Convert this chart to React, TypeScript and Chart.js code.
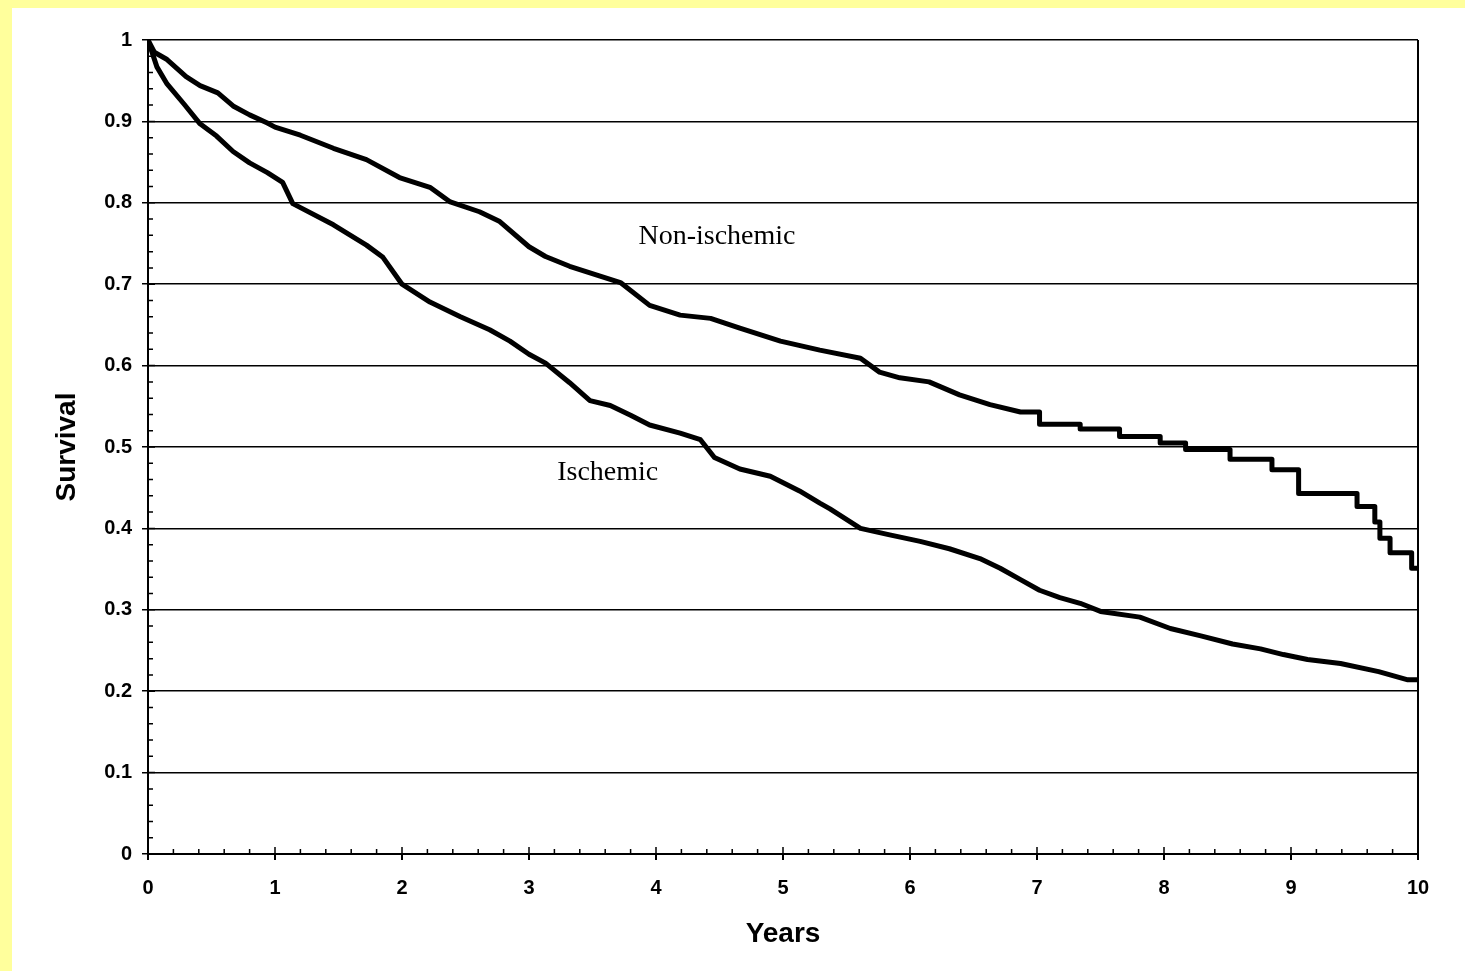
import React, { useEffect, useRef } from "react";
import { Chart, registerables } from "chart.js";

Chart.register(...registerables);

// Years since diagnosis (x) and survival proportion (y); repeated x values mark the visible drops of the curve's steps
const nonIschemicYears = [
  0, 0.05, 0.15, 0.3, 0.41, 0.55, 0.67, 0.8, 0.94, 1.0, 1.2, 1.46, 1.72, 1.98,
  2.22, 2.38, 2.61, 2.77, 3.0, 3.13, 3.32, 3.56, 3.72, 3.95, 4.19, 4.43, 4.66,
  4.98, 5.29, 5.61, 5.76, 5.92, 6.15, 6.39, 6.63, 6.87,
  7.02, 7.02, 7.34, 7.34, 7.65, 7.65, 7.97, 7.97, 8.17, 8.17, 8.52, 8.52,
  8.85, 8.85, 9.06, 9.06, 9.52, 9.52, 9.66, 9.66, 9.7, 9.7, 9.78, 9.78,
  9.95, 9.95, 10.0,
];
const nonIschemicSurvival = [
  1.0, 0.985, 0.976, 0.955, 0.944, 0.935, 0.919, 0.908, 0.898, 0.893, 0.883,
  0.867, 0.853, 0.831, 0.819, 0.801, 0.789, 0.777, 0.746, 0.734, 0.722, 0.71,
  0.702, 0.674, 0.662, 0.658, 0.646, 0.63, 0.619, 0.609, 0.592, 0.585, 0.58,
  0.564, 0.552, 0.543,
  0.543, 0.528, 0.528, 0.522, 0.522, 0.513, 0.513, 0.505, 0.505, 0.497,
  0.497, 0.485, 0.485, 0.472, 0.472, 0.443, 0.443, 0.427, 0.427, 0.408,
  0.408, 0.388, 0.388, 0.37, 0.37, 0.351, 0.351,
];

const ischemicYears = [
  0, 0.07, 0.15, 0.28, 0.41, 0.54, 0.67, 0.8, 0.94, 1.06, 1.14, 1.46, 1.72,
  1.85, 2.0, 2.22, 2.46, 2.69, 2.85, 3.0, 3.13, 3.32, 3.48, 3.64, 3.8, 3.95,
  4.19, 4.35, 4.46, 4.66, 4.9, 5.13, 5.29, 5.37, 5.61, 5.84, 6.08, 6.31, 6.55,
  6.71, 6.87, 7.02, 7.18, 7.34, 7.5, 7.81, 8.05, 8.29, 8.54, 8.76, 8.94, 9.13,
  9.39, 9.69, 9.92, 10.0,
];
const ischemicSurvival = [
  1.0, 0.967, 0.946, 0.922, 0.897, 0.882, 0.863, 0.849, 0.837, 0.825, 0.799,
  0.773, 0.748, 0.733, 0.7, 0.678, 0.66, 0.644, 0.63, 0.614, 0.603, 0.579,
  0.557, 0.551, 0.539, 0.527, 0.517, 0.509, 0.487, 0.473, 0.464, 0.446, 0.431,
  0.424, 0.4, 0.392, 0.384, 0.375, 0.363, 0.351, 0.337, 0.324, 0.315, 0.308,
  0.298, 0.291, 0.277, 0.268, 0.258, 0.252, 0.245, 0.239, 0.234, 0.224, 0.214,
  0.214,
];

const curveLabels = ["Non-ischemic", "Ischemic"];
const curveLabelX = [4.48, 3.62];
const curveLabelY = [0.758, 0.468];

const xTickValues = [0, 1, 2, 3, 4, 5, 6, 7, 8, 9, 10];
const xMinorStep = 0.2;
const yMinorStep = 0.02;

const toPoints = (xs: number[], ys: number[]) => xs.map((x, i) => ({ x, y: ys[i] }));

const minorTicksPlugin = {
  id: "minorTicks",
  afterDraw(chart: any) {
    const { ctx, scales } = chart;
    const xs = scales.x;
    const ys = scales.y;
    const axisY = ys.getPixelForValue(0);
    const axisX = xs.getPixelForValue(0);
    ctx.save();
    ctx.strokeStyle = "#000";
    ctx.lineWidth = 1.5;
    ctx.beginPath();
    for (let i = 1; i < Math.round(10 / xMinorStep); i++) {
      const v = i * xMinorStep;
      const px = xs.getPixelForValue(v);
      const major = i % 5 === 0;
      ctx.moveTo(px, axisY);
      ctx.lineTo(px, axisY - (major ? 7 : 5));
    }
    for (let i = 1; i < Math.round(1 / yMinorStep); i++) {
      const v = i * yMinorStep;
      const py = ys.getPixelForValue(v);
      const major = i % 5 === 0;
      ctx.moveTo(axisX, py);
      ctx.lineTo(axisX + (major ? 7 : 5), py);
    }
    ctx.stroke();
    ctx.restore();
  },
};

const curveLabelPlugin = {
  id: "curveLabels",
  afterDatasetsDraw(chart: any) {
    const { ctx, scales } = chart;
    ctx.save();
    ctx.fillStyle = "#000";
    ctx.font = '28px "Liberation Serif", "Times New Roman", serif';
    ctx.textAlign = "center";
    ctx.textBaseline = "middle";
    curveLabels.forEach((t, i) => {
      ctx.fillText(
        t,
        scales.x.getPixelForValue(curveLabelX[i]),
        scales.y.getPixelForValue(curveLabelY[i])
      );
    });
    ctx.restore();
  },
};

export default function App() {
  const canvasRef = useRef<HTMLCanvasElement | null>(null);

  useEffect(() => {
    if (!canvasRef.current) return;
    const tickFont = { family: '"Liberation Sans", Arial, sans-serif', size: 20, weight: "bold" as const };
    const titleFont = { family: '"Liberation Sans", Arial, sans-serif', size: 28, weight: "bold" as const };
    const lineStyle = {
      borderColor: "#000",
      borderWidth: 5,
      pointRadius: 0,
      fill: false,
      tension: 0,
      borderJoinStyle: "round" as const,
      borderCapStyle: "butt" as const,
    };
    const chart = new Chart(canvasRef.current, {
      type: "line",
      data: {
        datasets: [
          { label: "Non-ischemic", data: toPoints(nonIschemicYears, nonIschemicSurvival), ...lineStyle },
          { label: "Ischemic", data: toPoints(ischemicYears, ischemicSurvival), ...lineStyle },
        ],
      },
      options: {
        animation: false,
        responsive: false,
        events: [],
        layout: { padding: { left: 0, right: 47, top: 32, bottom: 0 } },
        plugins: {
          legend: { display: false },
          tooltip: { enabled: false },
        },
        scales: {
          x: {
            type: "linear",
            min: 0,
            max: 10,
            afterFit: (s: any) => {
              s.height = 117;
            },
            afterBuildTicks: (s: any) => {
              s.ticks = xTickValues.map((v) => ({ value: v }));
            },
            ticks: {
              color: "#000",
              font: tickFont,
              padding: 16,
              maxRotation: 0,
              callback: (v: any) => String(v),
            },
            grid: {
              color: (c: any) => (c.tick && c.tick.value === 10 ? "#000" : "rgba(0,0,0,0)"),
              tickColor: "#000",
              lineWidth: 2,
              tickLength: 6,
              drawOnChartArea: true,
            },
            border: { display: true, color: "#000", width: 2 },
            title: {
              display: true,
              text: "Years",
              color: "#000",
              font: titleFont,
              padding: { top: 0, bottom: 20 },
            },
          },
          y: {
            type: "linear",
            min: 0,
            max: 1,
            afterFit: (s: any) => {
              s.width = 136;
            },
            ticks: {
              stepSize: 0.1,
              color: "#000",
              font: tickFont,
              padding: 10,
              callback: (v: any) => {
                const n = Math.round(Number(v) * 10) / 10;
                return n === 0 || n === 1 ? String(n) : n.toFixed(1);
              },
            },
            grid: {
              color: "#000",
              tickColor: "#000",
              lineWidth: 1.5,
              tickLength: 6,
            },
            border: { display: true, color: "#000", width: 2 },
            title: {
              display: true,
              text: "Survival",
              color: "#000",
              font: titleFont,
              padding: { top: 38, bottom: 0 },
            },
          },
        },
      },
      plugins: [minorTicksPlugin, curveLabelPlugin],
    });
    return () => chart.destroy();
  }, []);

  return (
    <div
      style={{
        position: "fixed",
        left: 0,
        top: 0,
        width: 1465,
        height: 971,
        background: "#FFFF9C",
        overflow: "hidden",
      }}
    >
      <div
        style={{
          position: "absolute",
          left: 12,
          top: 8,
          width: 1453,
          height: 963,
          background: "#FFFFFF",
        }}
      >
        <canvas ref={canvasRef} width={1453} height={963} style={{ display: "block" }} />
      </div>
    </div>
  );
}
